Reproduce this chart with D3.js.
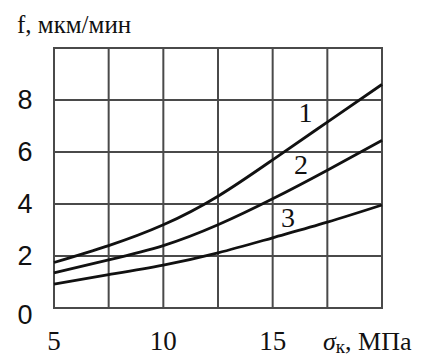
<!DOCTYPE html>
<html>
<head>
	<meta charset="UTF-8">
	<style>
		body { margin: 0; background: #fff; }
		text { font-family: "Liberation Serif", "DejaVu Serif", "Times New Roman", serif; fill: #111; }
		.grid line { stroke: #4a4a4a; stroke-width: 2; }
		.curve { fill: none; stroke: #111; stroke-width: 2.8; }
	</style>
</head>
<body>
<script src="https://d3js.org/d3.v7.min.js"></script>
<script>
'use strict';

// sigma_k, MPa
var sigma = [5, 7.5, 10, 12.5, 15, 17.5, 20];
// f, um/min for curves 1..3
var curve1 = [1.75, 2.4, 3.2, 4.3, 5.7, 7.15, 8.6];
var curve2 = [1.35, 1.85, 2.4, 3.2, 4.2, 5.3, 6.45];
var curve3 = [0.92, 1.28, 1.65, 2.12, 2.7, 3.3, 3.96];
var curveNames = ["1", "2", "3"];
// where each number label sits (x value, y value)
var labelAt = [[16.5, 7.55], [16.3, 5.55], [15.7, 3.5]];

var xTicks = [5, 10, 15];
var yTicks = [0, 2, 4, 6, 8];
var xGrid = [5, 7.5, 10, 12.5, 15, 17.5, 20];
var yGrid = [0, 2, 4, 6, 8, 10];

var width = 447, height = 357;
var margin = {top: 48, right: 65, bottom: 49, left: 54};

var svg = d3.select("body").append("svg")
	.attr("width", width)
	.attr("height", height);

var x = d3.scaleLinear().domain([5, 20]).range([margin.left, width - margin.right]);
var y = d3.scaleLinear().domain([0, 10]).range([height - margin.bottom, margin.top]);

var grid = svg.append("g").attr("class", "grid");
grid.selectAll(".v").data(xGrid).enter().append("line")
	.attr("x1", function(d){ return x(d); })
	.attr("x2", function(d){ return x(d); })
	.attr("y1", y(0) + 1)
	.attr("y2", y(10) - 1);
grid.selectAll(".h").data(yGrid).enter().append("line")
	.attr("x1", x(5) - 1)
	.attr("x2", x(20) + 1)
	.attr("y1", function(d){ return y(d); })
	.attr("y2", function(d){ return y(d); });

var line = d3.line()
	.x(function(d){ return x(d[0]); })
	.y(function(d){ return y(d[1]); })
	.curve(d3.curveNatural);

[curve1, curve2, curve3].forEach(function(c, i){
	svg.append("path")
		.attr("class", "curve")
		.attr("d", line(d3.zip(sigma, c)));
	svg.append("text")
		.attr("x", x(labelAt[i][0]))
		.attr("y", y(labelAt[i][1]))
		.attr("text-anchor", "middle")
		.attr("dy", "0.35em")
		.style("font-size", "28px")
		.text(curveNames[i]);
});

svg.selectAll(".ytick").data(yTicks).enter().append("text")
	.attr("x", 25)
	.attr("y", function(d){ return y(d) + (d === 0 ? 7 : 0); })
	.attr("dy", "0.35em")
	.attr("text-anchor", "middle")
	.style("font-family", "'Liberation Sans', Arial, sans-serif")
	.style("font-size", "27px")
	.text(function(d){ return d; });

svg.selectAll(".xtick").data(xTicks).enter().append("text")
	.attr("x", function(d){ return x(d); })
	.attr("y", 350)
	.attr("text-anchor", "middle")
	.style("font-size", "27px")
	.text(function(d){ return d; });

svg.append("text")
	.attr("x", 17)
	.attr("y", 33)
	.style("font-size", "25px")
	.text("f, мкм/мин");

var xl = svg.append("text")
	.attr("x", 323)
	.attr("y", 350)
	.style("font-size", "26px");
xl.append("tspan").style("font-style", "italic").text("σ");
xl.append("tspan").attr("dy", 3).style("font-size", "19px").text("к");
xl.append("tspan").attr("dy", -3).text(", МПа");
</script>
</body>
</html>
